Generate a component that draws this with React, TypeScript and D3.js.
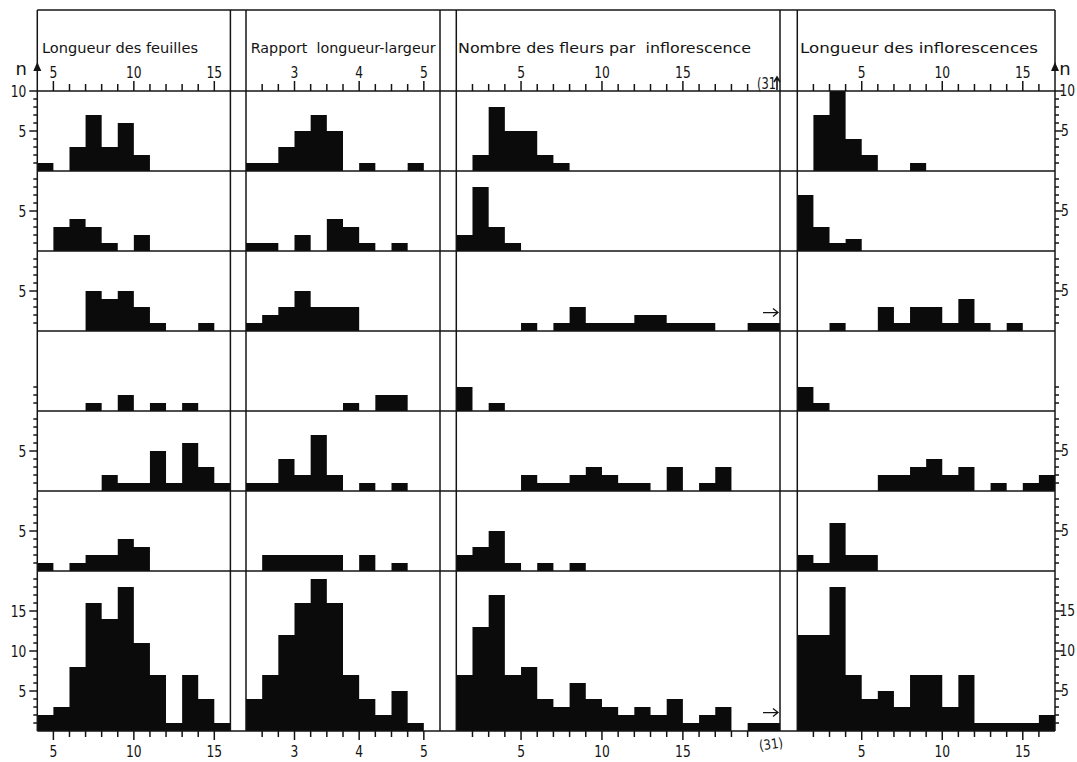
import React from 'react';
import * as d3 from 'd3';

// column titles and x settings
const titles = [
  'Longueur des feuilles',
  'Rapport  longueur-largeur',
  'Nombre des fleurs par  inflorescence',
  'Longueur des inflorescences',
];
const xDomains = [[4, 16], [2.25, 5.25], [1, 21], [1, 17]];
const binStarts = [4, 2.25, 1, 1];
const binWidths = [1, 0.25, 1, 1];
const xTickValues = [
  d3.range(5, 16, 1),
  d3.range(2.5, 5.01, 0.25),
  d3.range(2, 20, 1),
  d3.range(2, 17, 1),
];
const xTickLabels = [[5, 10, 15], [3, 4, 5], [5, 10, 15], [5, 10, 15]];

// counts per bin, one list per row (last row = all)
const feuilles = [
  [1, 0, 3, 7, 3, 6, 2, 0, 0, 0, 0, 0],
  [0, 3, 4, 3, 1, 0, 2, 0, 0, 0, 0, 0],
  [0, 0, 0, 5, 4, 5, 3, 1, 0, 0, 1, 0],
  [0, 0, 0, 1, 0, 2, 0, 1, 0, 1, 0, 0],
  [0, 0, 0, 0, 2, 1, 1, 5, 1, 6, 3, 1],
  [1, 0, 1, 2, 2, 4, 3, 0, 0, 0, 0, 0],
  [2, 3, 8, 16, 14, 18, 11, 7, 1, 7, 4, 1],
];
const rapport = [
  [1, 1, 3, 5, 7, 5, 0, 1, 0, 0, 1],
  [1, 1, 0, 2, 0, 4, 3, 1, 0, 1, 0],
  [1, 2, 3, 5, 3, 3, 3, 0, 0, 0, 0],
  [0, 0, 0, 0, 0, 0, 1, 0, 2, 2, 0],
  [1, 1, 4, 2, 7, 2, 0, 1, 0, 1, 0],
  [0, 2, 2, 2, 2, 2, 0, 2, 0, 1, 0],
  [4, 7, 12, 16, 19, 16, 7, 4, 2, 5, 1],
];
const fleurs = [
  [0, 2, 8, 5, 5, 2, 1, 0, 0, 0, 0, 0, 0, 0, 0, 0, 0, 0, 0, 0],
  [2, 8, 3, 1, 0, 0, 0, 0, 0, 0, 0, 0, 0, 0, 0, 0, 0, 0, 0, 0],
  [0, 0, 0, 0, 1, 0, 1, 3, 1, 1, 1, 2, 2, 1, 1, 1, 0, 0, 1, 1],
  [3, 0, 1, 0, 0, 0, 0, 0, 0, 0, 0, 0, 0, 0, 0, 0, 0, 0, 0, 0],
  [0, 0, 0, 0, 2, 1, 1, 2, 3, 2, 1, 1, 0, 3, 0, 1, 3, 0, 0, 0],
  [2, 3, 5, 1, 0, 1, 0, 1, 0, 0, 0, 0, 0, 0, 0, 0, 0, 0, 0, 0],
  [7, 13, 17, 7, 8, 4, 3, 6, 4, 3, 2, 3, 2, 4, 1, 2, 3, 0, 1, 1],
];
const inflorescences = [
  [0, 7, 10, 4, 2, 0, 0, 1, 0, 0, 0, 0, 0, 0, 0, 0],
  [7, 3, 1, 1.5, 0, 0, 0, 0, 0, 0, 0, 0, 0, 0, 0, 0],
  [0, 0, 1, 0, 0, 3, 1, 3, 3, 1, 4, 1, 0, 1, 0, 0],
  [3, 1, 0, 0, 0, 0, 0, 0, 0, 0, 0, 0, 0, 0, 0, 0],
  [0, 0, 0, 0, 0, 2, 2, 3, 4, 2, 3, 0, 1, 0, 1, 2],
  [2, 1, 6, 2, 2, 0, 0, 0, 0, 0, 0, 0, 0, 0, 0, 0],
  [12, 12, 18, 7, 4, 5, 3, 7, 7, 3, 7, 1, 1, 1, 1, 2],
];
const columns = [feuilles, rapport, fleurs, inflorescences];

// n axis per row
const rowMax = [10, 10, 10, 10, 10, 10, 20];
const rowTickTop = [10, 9, 9, 3, 9, 9, 19];
const rowTickLabels = [[5, 10], [5], [5], [], [5], [5], [5, 10, 15]];
const outlierLabel = '(31)';
const outlierRows = [2, 6];

const W = 1077;
const H = 762;
const colX = [[37.3, 230.4], [246, 440], [456.3, 780], [797.3, 1055]];
const topY = 10;
const axisY = 91;
const unit = 8;
const ink = '#141414';
const font = "'DejaVu Sans', sans-serif";
const titleWidths = [156, 185, 293, 238];
const digitW = 7.8;

// numeric label squeezed to a narrow width like the drawn lettering
const Num = ({ x, y, v, anchor, dy, size = 16 }: any) => {
  const s = String(v);
  return (
    <text x={x} y={y} dy={dy} textAnchor={anchor} fontSize={size} fontFamily={font} fill={ink}
      textLength={s.length * digitW} lengthAdjust="spacingAndGlyphs">{s}</text>
  );
};

export default function App() {
  const rowBounds: number[][] = [];
  let y = axisY;
  rowMax.forEach((m) => {
    rowBounds.push([y, y + m * unit]);
    y += m * unit;
  });
  const bottomY = y;
  const x0 = colX[0][0];
  const x1 = colX[3][1];

  const xs = colX.map((r, c) => d3.scaleLinear().domain(xDomains[c]).range(r));
  const ys = rowBounds.map((b, r) => d3.scaleLinear().domain([0, rowMax[r]]).range([b[1], b[0]]));

  const elems: React.ReactNode[] = [];

  // bars: one path per panel so adjacent bars merge without seams
  columns.forEach((rows, c) => {
    rows.forEach((vals, r) => {
      const p = d3.path();
      vals.forEach((v, i) => {
        if (!v) return;
        const a = xs[c](binStarts[c] + i * binWidths[c]);
        const b = xs[c](binStarts[c] + (i + 1) * binWidths[c]);
        p.rect(a, ys[r](v), b - a, ys[r](0) - ys[r](v));
      });
      elems.push(<path key={`b${c}-${r}`} d={p.toString()} fill="#0b0b0b" />);
    });
  });

  // frame lines
  const hLines = [topY, axisY, ...rowBounds.map((b) => b[1])];
  hLines.forEach((hy, i) => {
    elems.push(<line key={`h${i}`} x1={x0} x2={x1} y1={hy} y2={hy} stroke={ink} strokeWidth={1.5} />);
  });
  colX.forEach((r, c) => {
    r.forEach((vx, k) => {
      elems.push(<line key={`v${c}-${k}`} x1={vx} x2={vx} y1={topY} y2={bottomY} stroke={ink} strokeWidth={1.5} />);
    });
  });

  // x ticks top and bottom
  colX.forEach((_, c) => {
    xTickValues[c].forEach((t, i) => {
      const major = xTickLabels[c].some((l) => Math.abs(l - t) < 1e-6);
      const tx = xs[c](t);
      elems.push(<line key={`tt${c}-${i}`} x1={tx} x2={tx} y1={axisY} y2={axisY - (major ? 10 : 7)} stroke={ink} strokeWidth={1.5} />);
      elems.push(<line key={`tb${c}-${i}`} x1={tx} x2={tx} y1={bottomY} y2={bottomY + (major ? 9 : 6)} stroke={ink} strokeWidth={1.5} />);
    });
    xTickLabels[c].forEach((l, i) => {
      const tx = xs[c](l);
      elems.push(<Num key={`lt${c}-${i}`} x={tx} y={78} v={l} anchor="middle" />);
      elems.push(<Num key={`lb${c}-${i}`} x={tx} y={757} v={l} anchor="middle" />);
    });
    elems.push(
      <text key={`ti${c}`} x={colX[c][0] + (c === 2 ? 1.7 : c === 3 ? 2.7 : 4.7)} y={53} fontSize={14.5} fontFamily={font} fill={ink}
        textLength={titleWidths[c]} lengthAdjust="spacingAndGlyphs" style={{ whiteSpace: 'pre' }}>{titles[c]}</text>
    );
  });

  // n axes left and right
  rowBounds.forEach((b, r) => {
    d3.range(1, rowTickTop[r] + 1).forEach((t) => {
      const ty = ys[r](t);
      const major = rowTickLabels[r].includes(t);
      const len = major ? 8 : 4;
      elems.push(<line key={`nl${r}-${t}`} x1={x0} x2={x0 - len} y1={ty} y2={ty} stroke={ink} strokeWidth={1.5} />);
      elems.push(<line key={`nr${r}-${t}`} x1={x1} x2={x1 + len} y1={ty} y2={ty} stroke={ink} strokeWidth={1.5} />);
    });
    rowTickLabels[r].forEach((t) => {
      const ty = ys[r](t);
      const twoDigits = String(t).length > 1;
      elems.push(<Num key={`nll${r}-${t}`} x={x0 - 11} y={ty} dy="0.36em" v={t} anchor="end" />);
      elems.push(<Num key={`nrl${r}-${t}`} x={twoDigits ? 1075 : x1 + 6} y={ty} dy="0.36em" v={t}
        anchor={twoDigits ? 'end' : 'start'} size={15} />);
    });
  });
  [x0, x1].forEach((ax, k) => {
    elems.push(<path key={`arr${k}`} d={`M${ax},62 L${ax - 4},71 L${ax + 4},71 Z`} fill={ink} />);
    elems.push(<text key={`n${k}`} x={k === 0 ? ax - 16 : ax + 10} y={75} textAnchor="middle" fontSize={18} fontFamily={font} fill={ink}>n</text>);
  });

  // outlier marks in the flower column
  const ox = colX[2][1];
  elems.push(<text key="o-top" x={ox - 4} y={89} textAnchor="end" fontSize={15} fontFamily={font} fill={ink}
    textLength={19} lengthAdjust="spacingAndGlyphs">{outlierLabel.slice(0, 3)}</text>);
  elems.push(<path key="o-top-arr" d={`M${ox - 3},90 L${ox - 3},78 M${ox - 6},82 L${ox - 3},77 L${ox},82`} fill="none" stroke={ink} strokeWidth={1.6} />);
  outlierRows.forEach((r) => {
    const ay = ys[r](2.3);
    elems.push(<path key={`o-arr${r}`} d={`M${ox - 17},${ay} L${ox - 2},${ay} M${ox - 7},${ay - 4} L${ox - 2},${ay} L${ox - 7},${ay + 4}`} fill="none" stroke={ink} strokeWidth={1.3} />);
  });
  elems.push(<text key="o-bot" x={ox - 9} y={749} textAnchor="middle" fontSize={14} fontFamily={font} fill={ink}
    textLength={24} lengthAdjust="spacingAndGlyphs" transform={`rotate(-8 ${ox - 9} 744)`}>{outlierLabel}</text>);

  return (
    <svg width={W} height={H} style={{ position: 'absolute', left: 0, top: 0, background: '#fff' }}>
      <rect width={W} height={H} fill="#fff" />
      {elems}
    </svg>
  );
}
